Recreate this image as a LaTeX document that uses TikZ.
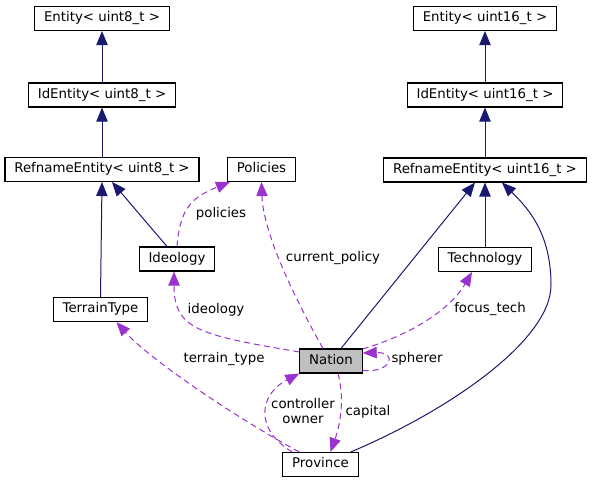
\documentclass[tikz,border=0pt]{standalone}
\usepackage{fontspec}
\setmainfont{DejaVu Sans}
\usetikzlibrary{arrows.meta,calc}
\definecolor{navyedge}{HTML}{191970}
\definecolor{usageedge}{HTML}{9A32CD}
\definecolor{focusgray}{HTML}{BFBFBF}
\tikzset{
  classbox/.style={draw, line width=0.8pt, fill=white, inner xsep=7pt, inner ysep=0pt, minimum height=18pt, text height=7.5pt, text depth=2.5pt, font=\fontsize{10}{12}\selectfont},
  focusbox/.style={classbox, fill=focusgray},
  inheritarrow/.style={-{Triangle[length=10.5pt, width=8.5pt]}, line width=0.75pt, color=navyedge},
  usagearrow/.style={-{Triangle[length=10.5pt, width=8.5pt]}, line width=0.75pt, color=usageedge, dash pattern=on 4.5pt off 3pt},
  edgelabel/.style={font=\fontsize{10}{11.5}\selectfont, inner sep=0pt, text height=7.5pt, text depth=2.5pt}
}
\begin{document}
\begin{tikzpicture}[x=0.75pt, y=-0.75pt]
  \useasboundingbox (0,0) rectangle (592,484);
  \node[classbox] (ent8) at (102,18.5) {Entity< uint8\_t >};
  \node[classbox] (ident8) at (102,95) {IdEntity< uint8\_t >};
  \node[classbox] (ref8) at (102,169.5) {RefnameEntity< uint8\_t >};
  \node[classbox] (policies) at (261.5,169.5) {Policies};
  \node[classbox] (ent16) at (485,18.5) {Entity< uint16\_t >};
  \node[classbox] (ident16) at (485,95) {IdEntity< uint16\_t >};
  \node[classbox] (ref16) at (485,170) {RefnameEntity< uint16\_t >};
  \node[classbox] (ideology) at (177,259) {Ideology};
  \node[classbox] (technology) at (485,259.5) {Technology};
  \node[classbox] (terrain) at (100.5,309.5) {TerrainType};
  \node[focusbox] (nation) at (331,361) {Nation};
  \node[classbox] (province) at (320.5,464.5) {Province};

  \draw[inheritarrow] (ident8) -- (ent8);
  \draw[inheritarrow] (ref8) -- (ident8);
  \draw[inheritarrow] (terrain.north) -- (ref8.south);
  \draw[inheritarrow] ($(ideology.north)+(-10,0)$) -- ($(ref8.south)+(10,0)$);
  \draw[inheritarrow] (ident16) -- (ent16);
  \draw[inheritarrow] (ref16) -- (ident16);
  \draw[inheritarrow] (technology) -- (ref16);
  \draw[inheritarrow] ($(nation.north)+(10,0)$) -- ($(ref16.south)+(-10,0)$);
  \draw[inheritarrow] ($(province.north east)+(-8,0)$) .. controls (450,410) and (551,340) .. (551,285)
    .. controls (551,235) and (530,210) .. ($(ref16.south)+(17,0)$);

  \draw[usagearrow] (ideology.north) .. controls (180,210) and (190,198) .. ($(policies.south west)+(3,0)$);
  \draw[usagearrow] ($(nation.north)+(-8,0)$) .. controls (290,290) and (263,230) .. (policies.south);
  \draw[usagearrow] ($(nation.west)+(0,-9)$) .. controls (200,335) and (174,330) .. ($(ideology.south)+(-3,0)$);
  \draw[usagearrow] ($(province.north west)+(17,0)$) .. controls (240,420) and (150,360) .. ($(terrain.south)+(16,0)$);
  \draw[usagearrow] ($(province.north west)+(10,0)$) .. controls (255,430) and (258,395) .. (nation.south west);
  \draw[usagearrow] ($(nation.south)+(7,0)$) .. controls (345,400) and (340,425) .. ($(province.north)+(10,0)$);
  \draw[usagearrow] ($(nation.east)+(0,-12)$) .. controls (410,335) and (450,310) .. ($(technology.south)+(-13,0)$);
  \draw[usagearrow] ($(nation.south east)+(0,-3)$) .. controls (392,373) and (398,352) .. ($(nation.east)+(0,-8)$);

  \node[edgelabel] (lpolicies) at (221,214) {policies};
  \node[edgelabel] (lcurrent) at (333,258) {current\_policy};
  \node[edgelabel] (lideology) at (216,310) {ideology};
  \node[edgelabel] (lterrain) at (224,359) {terrain\_type};
  \node[edgelabel] (lfocus) at (490,309) {focus\_tech};
  \node[edgelabel] (lspherer) at (417,359) {spherer};
  \node[edgelabel, align=center, text height=, text depth=] (lcontrol) at (303,411) {controller\\owner};
  \node[edgelabel] (lcapital) at (368,412) {capital};
\end{tikzpicture}
\end{document}
